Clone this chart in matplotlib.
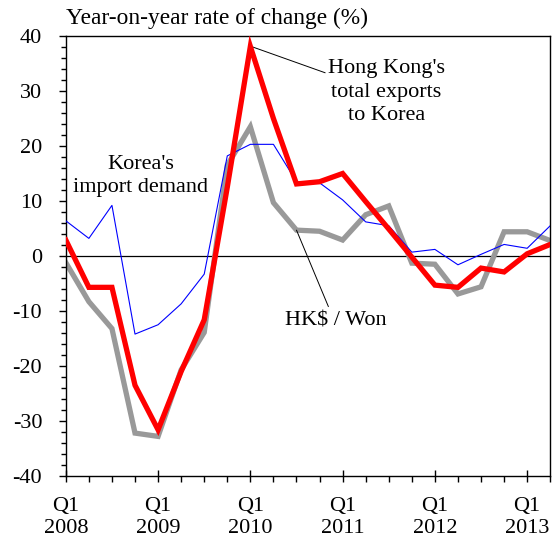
import matplotlib
matplotlib.use('Agg')

import numpy as np
import matplotlib.pyplot as plt
from matplotlib.ticker import MultipleLocator, FixedLocator

# quarters Q1 2008 .. Q2 2013
quarters = [f"Q{q} {y}" for y in range(2008, 2014) for q in range(1, 5)][:22]

# year-on-year % change
hk_exports = [2.9, -5.7, -5.7, -23.5, -31.6, -21.0, -11.6, 12.5, 38.1, 25.0,
              13.1, 13.5, 15.0, 9.9, 4.9, -0.2, -5.3, -5.7, -2.2, -2.9, 0.4, 2.1]
hkd_won = [-1.2, -8.3, -13.2, -32.2, -32.8, -20.7, -13.9, 16.5, 23.5, 9.7,
           4.7, 4.5, 2.9, 7.5, 9.1, -1.3, -1.5, -6.9, -5.6, 4.4, 4.4, 2.8]
korea_demand = [6.4, 3.2, 9.2, -14.2, -12.5, -8.7, -3.3, 18.2, 20.3, 20.3,
                13.5, 13.3, 10.2, 6.2, 5.5, 0.7, 1.2, -1.6, 0.3, 2.1, 1.4, 5.5]

year_ticks = [0, 4, 8, 12, 16, 20]
year_labels = ["Q1\n2008", "Q1\n2009", "Q1\n2010", "Q1\n2011", "Q1\n2012", "Q1\n2013"]

plt.rcParams['font.family'] = ['Liberation Serif', 'DejaVu Serif']
plt.rcParams['font.size'] = 16
plt.rcParams['axes.unicode_minus'] = False

fig = plt.figure(figsize=(5.53, 5.37), dpi=100)
ax = fig.add_axes([0.119, 0.1136, 0.876, 0.8194])

x = np.arange(len(quarters))
ax.axhline(0, color='black', lw=0.9, zorder=1)
ax.plot(x, hkd_won, color='#999999', lw=3.8, zorder=2, solid_joinstyle='miter')
ax.plot(x, korea_demand, color='#0000ff', lw=0.8, zorder=3)
ax.plot(x, hk_exports, color='#ff0000', lw=3.8, zorder=4, solid_joinstyle='miter')

ax.set_xlim(0, 21)
ax.set_ylim(-40, 40)
ax.yaxis.set_major_locator(MultipleLocator(10))
ax.yaxis.set_minor_locator(MultipleLocator(2))
ax.xaxis.set_major_locator(FixedLocator(year_ticks))
ax.xaxis.set_minor_locator(MultipleLocator(1))
ax.set_xticklabels(year_labels, linespacing=1.2)

ax.tick_params(axis='y', which='major', direction='out', length=5, width=1, pad=12)
ax.tick_params(axis='y', which='minor', direction='out', length=3.6, width=1)
ax.tick_params(axis='x', which='major', direction='inout', length=8, width=1, pad=11)
ax.tick_params(axis='x', which='minor', direction='out', length=4, width=1)
for s in ax.spines.values():
    s.set_linewidth(1)

fig.text(0.119, 0.965, "Year-on-year rate of change (%)", ha='left', va='center', fontsize=16.8)

ax.text(3.25, 14.6, "Korea's\nimport demand", ha='center', va='center', linespacing=1.3)
ax.annotate("Hong Kong's\ntotal exports\nto Korea", xy=(8.1, 38.0), xytext=(13.9, 29.8),
            ha='center', va='center', linespacing=1.3,
            arrowprops=dict(arrowstyle='-', color='black', lw=0.7,
                            shrinkA=0, shrinkB=0, relpos=(0.0, 0.78)))
ax.annotate("HK$ / Won", xy=(10.0, 4.7), xytext=(11.7, -11.9),
            ha='center', va='center',
            arrowprops=dict(arrowstyle='-', color='black', lw=0.7,
                            shrinkA=2, shrinkB=0, relpos=(0.45, 1.0)))

fig.savefig("out.png", dpi=100)
